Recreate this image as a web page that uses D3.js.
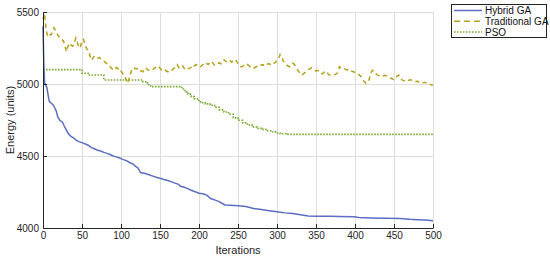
<!DOCTYPE html>
<html lang="en">
<head>
<meta charset="UTF-8">
<title>Energy vs Iterations</title>
<script src="https://d3js.org/d3.v7.min.js"></script>
<style>
  body { margin: 0; background: #fff; font-family: "Liberation Sans", Arial, sans-serif; }
  .axis text { font-size: 10px; fill: #262626; font-family: "Liberation Sans", Arial, sans-serif; }
  .axis path, .axis line { stroke: #262626; }
  .grid line { stroke: #dedede; }
  .grid path { display: none; }
  .legend text { font-size: 10px; fill: #111; }
</style>
</head>
<body>
<svg id="chart" width="550" height="258"></svg>
<script>
  // tick values
  const xTicks = [0, 50, 100, 150, 200, 250, 300, 350, 400, 450, 500];
  const yTicks = [4000, 4500, 5000, 5500];
  const seriesNames = ["Hybrid GA", "Traditional GA", "PSO"];

  // Hybrid GA: [iteration, energy]
  const hybridGA = [
    [0, 5400], [1, 5150], [2, 5010], [3, 4995], [5, 4975], [6, 4940], [8, 4880], [10, 4870],
    [13, 4855], [15, 4835], [17, 4812], [19, 4770], [22, 4745], [25, 4735], [27, 4710], [30, 4680],
    [32, 4660], [35, 4640], [38, 4630], [42, 4612], [46, 4600], [50, 4593], [55, 4582], [58, 4575],
    [62, 4558], [66, 4550], [70, 4540], [74, 4535], [78, 4525], [82, 4518], [86, 4510], [90, 4500],
    [95, 4492], [99, 4484], [103, 4475], [107, 4468], [111, 4455], [115, 4445], [118, 4432], [122, 4415],
    [125, 4385], [130, 4380], [135, 4372], [140, 4362], [145, 4352], [150, 4345], [155, 4337], [160, 4330],
    [165, 4320], [170, 4310], [174, 4303], [176, 4290], [180, 4285], [185, 4275], [190, 4262], [195, 4252],
    [200, 4242], [205, 4238], [210, 4228], [215, 4205], [220, 4195], [225, 4185], [230, 4170], [233, 4160],
    [240, 4158], [250, 4155], [260, 4150], [265, 4143], [270, 4135], [280, 4128], [290, 4120], [300, 4113],
    [310, 4105], [320, 4100], [330, 4092], [340, 4084], [350, 4082], [360, 4082], [370, 4081], [380, 4080],
    [398, 4078], [405, 4073], [420, 4070], [440, 4068], [458, 4066], [470, 4060], [480, 4057], [490, 4055],
    [500, 4050]
  ];

  // Traditional GA: energy every 2 iterations from 0 to 500
  const traditionalGA = [
    5450, 5490, 5375, 5330, 5345, 5340, 5360, 5390, 5370, 5350,
    5330, 5325, 5310, 5300, 5270, 5225, 5260, 5285, 5270, 5262,
    5280, 5320, 5290, 5250, 5260, 5300, 5310, 5270, 5245, 5235,
    5200, 5165, 5180, 5195, 5190, 5180, 5185, 5175, 5170, 5160,
    5150, 5140, 5130, 5120, 5110, 5097, 5100, 5115, 5105, 5110,
    5090, 5075, 5050, 5040, 5005, 5030, 5070, 5100, 5095, 5110,
    5105, 5110, 5095, 5090, 5085, 5100, 5112, 5100, 5095, 5090,
    5098, 5105, 5115, 5120, 5125, 5110, 5098, 5092, 5100, 5090,
    5085, 5095, 5100, 5098, 5110, 5120, 5135, 5115, 5125, 5132,
    5118, 5100, 5097, 5105, 5110, 5115, 5108, 5125, 5135, 5128,
    5118, 5120, 5130, 5140, 5150, 5142, 5135, 5150, 5158, 5145,
    5130, 5135, 5142, 5148, 5140, 5155, 5168, 5160, 5150, 5158,
    5162, 5150, 5165, 5170, 5160, 5140, 5125, 5118, 5122, 5130,
    5125, 5135, 5128, 5115, 5110, 5108, 5115, 5122, 5118, 5125,
    5135, 5130, 5140, 5145, 5138, 5142, 5130, 5135, 5145, 5150,
    5165, 5175, 5205, 5190, 5160, 5150, 5135, 5125, 5120, 5135,
    5145, 5138, 5120, 5100, 5085, 5075, 5062, 5070, 5080, 5090,
    5100, 5105, 5112, 5108, 5100, 5090, 5095, 5088, 5075, 5070,
    5080, 5090, 5085, 5065, 5062, 5064, 5063, 5065, 5070, 5080,
    5120, 5110, 5112, 5108, 5100, 5098, 5102, 5095, 5088, 5085,
    5080, 5078, 5072, 5060, 5050, 5030, 5015, 5005, 5010, 5030,
    5070, 5095, 5090, 5075, 5065, 5060, 5055, 5050, 5055, 5060,
    5058, 5050, 5045, 5040, 5035, 5028, 5040, 5055, 5062, 5045,
    5028, 5025, 5020, 5016, 5022, 5030, 5028, 5025, 5020, 5016,
    5020, 5012, 5005, 5010, 5008, 5012, 5005, 5000, 4998, 4993,
    4995
  ];

  // PSO: step changes [iteration, energy]
  const pso = [
    [0, 5100], [50, 5075], [58, 5062], [78, 5028], [128, 5016], [134, 4995], [138, 4982],
    [178, 4965], [182, 4945], [186, 4930], [190, 4912], [194, 4898], [198, 4885], [202, 4870],
    [208, 4862], [214, 4852], [220, 4838], [226, 4820], [232, 4806], [238, 4790], [244, 4765],
    [250, 4748], [256, 4730], [262, 4715], [268, 4702], [274, 4692], [280, 4685], [286, 4675],
    [292, 4668], [298, 4660], [304, 4654], [312, 4650], [500, 4650]
  ];

  const svg = d3.select("#chart");
  const plotLeft = 43, plotRight = 433, plotTop = 12, plotBottom = 228;

  const x = d3.scaleLinear().domain([0, 500]).range([plotLeft, plotRight]);
  const y = d3.scaleLinear().domain([4000, 5500]).range([plotBottom, plotTop]);

  // grid
  svg.append("g").attr("class", "grid")
    .attr("transform", `translate(0,${plotBottom})`)
    .call(d3.axisBottom(x).tickValues(xTicks).tickSize(-(plotBottom - plotTop)).tickFormat(""));
  svg.append("g").attr("class", "grid")
    .attr("transform", `translate(${plotLeft},0)`)
    .call(d3.axisLeft(y).tickValues(yTicks).tickSize(-(plotRight - plotLeft)).tickFormat(""));

  const line = d3.line().x(d => x(d[0])).y(d => y(d[1]));
  const stepLine = d3.line().x(d => x(d[0])).y(d => y(d[1])).curve(d3.curveStepAfter);
  const tradData = traditionalGA.map((v, i) => [i * 2, v]);

  svg.append("path").datum(pso)
    .attr("fill", "none").attr("stroke", "#77ac30").attr("stroke-width", 1.6)
    .attr("stroke-dasharray", "1.6,1.4")
    .attr("d", stepLine);

  svg.append("path").datum(tradData)
    .attr("fill", "none").attr("stroke", "#b5a21f").attr("stroke-width", 1.5)
    .attr("stroke-dasharray", "4.5,3.5")
    .attr("d", line);

  svg.append("path").datum(hybridGA)
    .attr("fill", "none").attr("stroke", "#5b6ec2").attr("stroke-width", 1.5)
    .attr("d", line);

  // axes
  svg.append("g").attr("class", "axis")
    .attr("transform", `translate(0,${plotBottom})`)
    .call(d3.axisBottom(x).tickValues(xTicks).tickSize(-4).tickPadding(4).tickSizeOuter(0));
  svg.append("g").attr("class", "axis")
    .attr("transform", `translate(${plotLeft},0)`)
    .call(d3.axisLeft(y).tickValues(yTicks).tickFormat(d3.format("d"))
      .tickSize(-4).tickPadding(4).tickSizeOuter(0));

  svg.append("text")
    .attr("x", (plotLeft + plotRight) / 2).attr("y", 254)
    .attr("text-anchor", "middle").attr("font-size", 11).attr("fill", "#262626")
    .text("Iterations");
  svg.append("text")
    .attr("transform", `translate(14,${(plotTop + plotBottom) / 2}) rotate(-90)`)
    .attr("text-anchor", "middle").attr("font-size", 11).attr("fill", "#262626")
    .text("Energy (units)");

  // legend
  const legend = svg.append("g").attr("class", "legend");
  legend.append("rect").attr("x", 451.5).attr("y", 4.5).attr("width", 95).attr("height", 33)
    .attr("fill", "#fff").attr("stroke", "#222").attr("stroke-width", 1);
  const styles = [
    { color: "#5b6ec2", dash: null },
    { color: "#b5a21f", dash: "6,4" },
    { color: "#77ac30", dash: "1.6,1.4" }
  ];
  seriesNames.forEach((name, i) => {
    const ly = 10.5 + i * 10.8;
    legend.append("line").attr("x1", 454).attr("x2", 482).attr("y1", ly).attr("y2", ly)
      .attr("stroke", styles[i].color).attr("stroke-width", 1.5)
      .attr("stroke-dasharray", styles[i].dash);
    legend.append("text").attr("x", 485).attr("y", ly + 3.5).text(name);
  });
</script>
</body>
</html>
